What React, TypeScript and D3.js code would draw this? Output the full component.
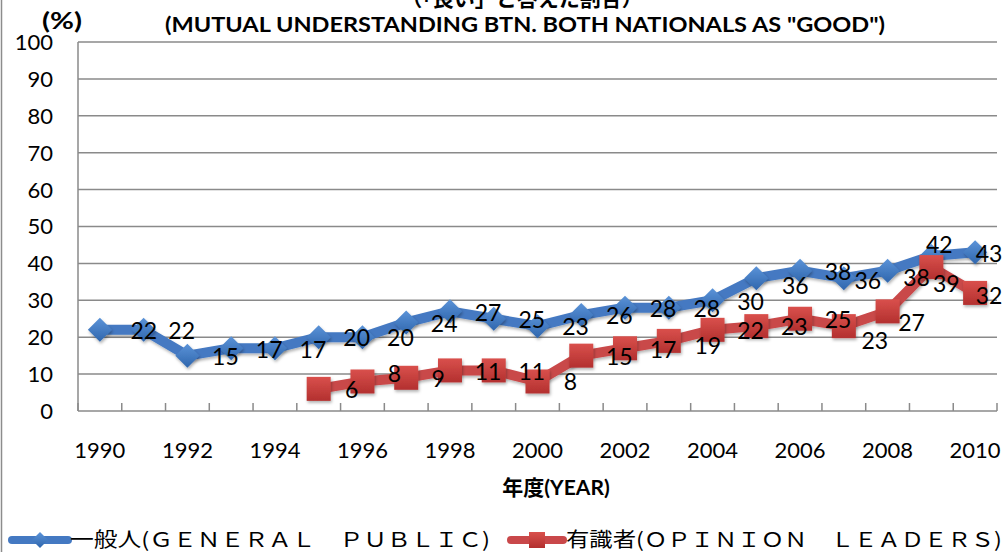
import React from "react";
import * as d3 from "d3";

const years = [1990, 1991, 1992, 1993, 1994, 1995, 1996, 1997, 1998, 1999, 2000, 2001, 2002, 2003, 2004, 2005, 2006, 2007, 2008, 2009, 2010];
const generalPublic = [22, 22, 15, 17, 17, 20, 20, 24, 27, 25, 23, 26, 28, 28, 30, 36, 38, 36, 38, 42, 43];
const leaderYears = [1995, 1996, 1997, 1998, 1999, 2000, 2001, 2002, 2003, 2004, 2005, 2006, 2007, 2008, 2009, 2010];
const opinionLeaders = [6, 8, 9, 11, 11, 8, 15, 17, 19, 22, 23, 25, 23, 27, 39, 32];
const yTicks = [0, 10, 20, 30, 40, 50, 60, 70, 80, 90, 100];
const xTickLabels = [1990, 1992, 1994, 1996, 1998, 2000, 2002, 2004, 2006, 2008, 2010];

const titleJa = "（「良い」と答えた割合）";
const titleEn = '(MUTUAL UNDERSTANDING BTN. BOTH NATIONALS AS "GOOD")';
const legendGeneral = "一般人(ＧＥＮＥＲＡＬ　ＰＵＢＬＩＣ)";
const legendLeaders = "有識者(ＯＰＩＮＩＯＮ　ＬＥＡＤＥＲＳ)";

// label placement nudges (pixels), layout only
const blueNudge: Record<number, [number, number]> = {
  1990: [44, 1], 2005: [39, 8], 2007: [24, 3], 2008: [29, 7], 2009: [8, -11], 2010: [14, 1],
};
const redNudge: Record<number, [number, number]> = {
  1995: [33, 1], 1996: [32, -8], 1997: [32, 1], 2000: [33, 0], 2003: [39, 5], 2007: [31, 15], 2008: [24, 11], 2009: [15, 17], 2010: [14, 3],
};

const W = 1005;
const H = 552;
const BLUE = "#4479c2";
const RED = "#c9484a";

export default function App() {
  const x = d3.scaleBand<number>().domain(years).range([78, 997]);
  const y = d3.scaleLinear().domain([0, 100]).range([411, 42]);
  const cx = (yr: number) => (x(yr) as number) + x.bandwidth() / 2;

  const gp = years.map((yr, i) => ({ yr, v: generalPublic[i] }));
  const ol = leaderYears.map((yr, i) => ({ yr, v: opinionLeaders[i] }));

  const line = d3
    .line<{ yr: number; v: number }>()
    .x((d) => cx(d.yr))
    .y((d) => y(d.v));

  const font = "Lato, 'Open Sans', sans-serif";
  const tickBoundaries = d3.range(years.length + 1).map((i) => 78 + i * x.bandwidth());

  const diamond = (px: number, py: number, r: number) =>
    `M${px},${py - r}L${px + r},${py}L${px},${py + r}L${px - r},${py}Z`;

  return (
    <svg width={W} height={H} style={{ position: "absolute", left: 0, top: 0, background: "#fff" }} fontFamily={font}>
      <defs>
        <linearGradient id="gBlue" x1="0" y1="0" x2="0" y2="1">
          <stop offset="0" stopColor="#5b93d8" />
          <stop offset="1" stopColor="#2f66ad" />
        </linearGradient>
        <linearGradient id="gRed" x1="0" y1="0" x2="0" y2="1">
          <stop offset="0" stopColor="#d9504c" />
          <stop offset="1" stopColor="#b3302f" />
        </linearGradient>
        <filter id="sh" x="-30%" y="-30%" width="160%" height="160%">
          <feDropShadow dx="1" dy="2" stdDeviation="1.5" floodColor="#000" floodOpacity="0.3" />
        </filter>
      </defs>
      <rect x={0} y={0} width={W} height={H} fill="#fff" />
      <line x1={1.5} y1={0} x2={1.5} y2={H} stroke="#8c8c8c" strokeWidth={1.5} />

      {/* titles */}
      <text x={522} y={6} textAnchor="middle" fontSize={21} fontWeight="bold" fontFamily="'Noto Sans CJK JP', sans-serif">
        {titleJa}
      </text>
      <text x={525} y={32} textAnchor="middle" fontSize={21} fontWeight="bold" textLength={720} lengthAdjust="spacingAndGlyphs">
        {titleEn}
      </text>
      <text x={42} y={29} fontSize={22} fontWeight="bold" textLength={40} lengthAdjust="spacingAndGlyphs">(%)</text>

      {/* gridlines */}
      {yTicks.map((t) => (
        <line key={t} x1={78} x2={997} y1={y(t)} y2={y(t)} stroke="#8a8a8a" strokeWidth={1.5} />
      ))}
      <line x1={78} x2={78} y1={y(100)} y2={y(0)} stroke="#8a8a8a" strokeWidth={1.5} />
      {tickBoundaries.map((bx, i) => (
        <line key={i} x1={bx} x2={bx} y1={y(0) - 8} y2={y(0)} stroke="#8a8a8a" strokeWidth={1.5} />
      ))}

      {/* y tick labels */}
      {yTicks.map((t) => (
        <text key={t} x={53} y={y(t)} dy="0.36em" textAnchor="end" fontSize={22} fill="#000">
          {t}
        </text>
      ))}
      {/* x tick labels */}
      {xTickLabels.map((yr) => (
        <text key={yr} x={cx(yr)} y={458} textAnchor="middle" fontSize={22} fill="#000">
          {yr}
        </text>
      ))}
      <text x={556} y={495} textAnchor="middle" fontSize={21} fontWeight="bold">
        <tspan fontFamily="'Noto Sans CJK JP', sans-serif">年度</tspan>(YEAR)
      </text>

      {/* series lines */}
      <path d={line(gp) || ""} fill="none" stroke={BLUE} strokeWidth={10} strokeLinejoin="round" filter="url(#sh)" />
      <path d={line(ol) || ""} fill="none" stroke={RED} strokeWidth={10} strokeLinejoin="round" filter="url(#sh)" />

      {/* markers */}
      {gp.map((d) => (
        <path key={d.yr} d={diamond(cx(d.yr), y(d.v), 12)} fill="url(#gBlue)" filter="url(#sh)" />
      ))}
      {ol.map((d) => (
        <rect key={d.yr} x={cx(d.yr) - 12} y={y(d.v) - 12} width={24} height={24} fill="url(#gRed)" filter="url(#sh)" />
      ))}

      {/* data labels */}
      {gp.map((d) => {
        const [dx, dy] = blueNudge[d.yr] || [38, 1];
        return (
          <text key={d.yr} x={cx(d.yr) + dx} y={y(d.v) + dy} dy="0.36em" textAnchor="middle" fontSize={23} fill="#000">
            {d.v}
          </text>
        );
      })}
      {ol.map((d) => {
        const [dx, dy] = redNudge[d.yr] || [38, 1];
        return (
          <text key={d.yr} x={cx(d.yr) + dx} y={y(d.v) + dy} dy="0.36em" textAnchor="middle" fontSize={23} fill="#000">
            {d.v}
          </text>
        );
      })}

      {/* legend */}
      <line x1={12} x2={68} y1={540} y2={540} stroke={BLUE} strokeWidth={8} strokeLinecap="round" />
      <path d={diamond(40, 540, 8)} fill="url(#gBlue)" />
      <text x={70} y={547} fontSize={20} fontFamily="'Noto Sans CJK JP', sans-serif" textLength={420} lengthAdjust="spacingAndGlyphs">
        {legendGeneral}
      </text>
      <line x1={511} x2={563} y1={540} y2={540} stroke={RED} strokeWidth={8} strokeLinecap="round" />
      <rect x={529} y={532} width={16} height={16} fill="url(#gRed)" />
      <text x={566} y={547} fontSize={20} fontFamily="'Noto Sans CJK JP', sans-serif" textLength={436} lengthAdjust="spacingAndGlyphs">
        {legendLeaders}
      </text>
    </svg>
  );
}
